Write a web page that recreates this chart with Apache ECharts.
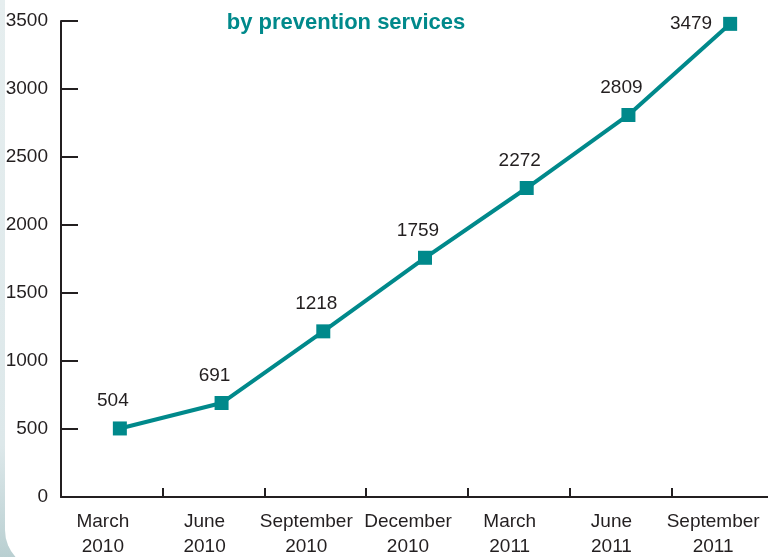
<!DOCTYPE html>
<html>
<head>
<meta charset="utf-8">
<script src="https://cdn.jsdelivr.net/npm/echarts@6/dist/echarts.min.js"></script>
<style>
html,body{margin:0;padding:0;background:#fff;}
#chart{width:768px;height:557px;}
</style>
</head>
<body>
<div id="chart"></div>
<script>
var categories = ['March\n2010','June\n2010','September\n2010','December\n2010','March\n2011','June\n2011','September\n2011'];
var values = [504, 691, 1218, 1759, 2272, 2809, 3479];
var yTicks = [0, 500, 1000, 1500, 2000, 2500, 3000, 3500];
var titleText = 'by prevention services';

var FONT = '"Liberation Sans", Arial, Helvetica, sans-serif';
var TEAL = '#00898b';
var INK = '#231f20';

var chart = echarts.init(document.getElementById('chart'), null, {renderer:'canvas'});

var seriesData = values.map(function(v, i){
  var item = {value: v};
  if (i === values.length - 1) {
    item.label = {position: 'left', distance: 5, offset: [-6, 0]};
  }
  return item;
});

var yMin = yTicks[0], yMax = yTicks[yTicks.length-1];

chart.setOption({
  backgroundColor: '#ffffff',
  animation: false,
  graphic: [
    {type:'rect', z:-10, silent:true, shape:{x:0,y:0,width:768,height:557},
     style:{fill:{type:'linear',x:0,y:0,x2:0,y2:1,colorStops:[{offset:0,color:'#e6eeef'},{offset:0.8,color:'#dde8ea'},{offset:1,color:'#b9cfd1'}]}}},
    {type:'rect', z:-9, silent:true, shape:{x:5,y:-40,width:820,height:610,r:40},
     style:{fill:'#ffffff'}}
  ],
  title: {
    text: titleText,
    left: 341, top: 7, textAlign: 'center',
    textStyle: {fontFamily: FONT, fontWeight: 'bold', fontSize: 22, color: TEAL}
  },
  grid: [
    {left: 61, right: -5, top: 21, bottom: 60, containLabel: false, outerBoundsMode: 'none'},
    {left: 69, right: -13, top: 21, bottom: 60, containLabel: false, outerBoundsMode: 'none'}
  ],
  xAxis: [{
    type: 'category',
    gridIndex: 0,
    data: categories,
    boundaryGap: true,
    axisLine: {show: true, lineStyle: {color: INK, width: 2}},
    axisTick: {show: true, inside: true, length: 9, lineStyle: {color: INK, width: 2}},
    axisLabel: {fontFamily: FONT, fontSize: 19, color: INK, margin: 12, lineHeight: 25, interval: 0, padding: [0, 18, 0, 0]}
  }, {
    type: 'category',
    gridIndex: 1,
    data: categories,
    boundaryGap: true,
    show: false
  }],
  yAxis: [{
    type: 'value',
    gridIndex: 0,
    min: yMin, max: yMax, interval: 500,
    axisLine: {show: true, lineStyle: {color: INK, width: 2}},
    axisTick: {show: true, inside: true, length: 17, lineStyle: {color: INK, width: 2}},
    splitLine: {show: false},
    axisLabel: {fontFamily: FONT, fontSize: 19, color: INK, margin: 13, formatter: function(v){ return String(v); }}
  }, {
    type: 'value',
    gridIndex: 1,
    min: yMin, max: yMax, interval: 500,
    show: false,
    splitLine: {show: false}
  }],
  series: [{
    type: 'line',
    xAxisIndex: 1,
    yAxisIndex: 1,
    data: seriesData,
    symbol: 'rect',
    symbolSize: 14,
    lineStyle: {color: TEAL, width: 4},
    itemStyle: {color: TEAL},
    label: {show: true, position: 'top', distance: 11, offset: [-7, 0], fontFamily: FONT, fontSize: 19, color: INK}
  }]
});
</script>
</body>
</html>
